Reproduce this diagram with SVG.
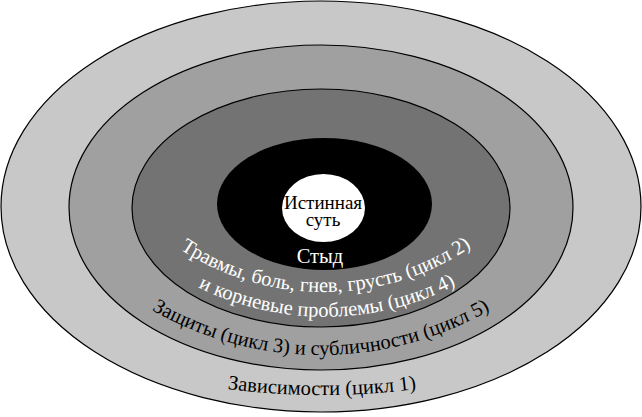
<svg xmlns="http://www.w3.org/2000/svg" xmlns:xlink="http://www.w3.org/1999/xlink" width="642" height="417" viewBox="0 0 642 417">
<style>
.ring{stroke:#000;stroke-width:1.2}
.t{font-family:'Liberation Serif','DejaVu Serif',serif;font-size:20.5px}
.w{fill:#fff}
.k{fill:#000}
</style>
<defs>
<path id="p1" d="M138,215 A263,263 0 0 0 510,215"/>
<path id="p2" d="M121,232 A288,288 0 0 0 529,232"/>
<path id="p3" d="M102.5,275.5 A340,340 0 0 0 539.5,275.5"/>
<path id="p4" d="M126.6,369.3 A755,755 0 0 0 517.4,369.3"/>
</defs>
<rect width="642" height="417" fill="#fff"/>
<g id="addictions">
<ellipse class="ring" cx="321" cy="206.5" rx="320" ry="205.5" fill="#c8c8c8"/>
<text class="t k" font-family="Liberation Serif, DejaVu Serif, serif"><textPath xlink:href="#p4" href="#p4" startOffset="50%" text-anchor="middle">Зависимости (цикл 1)</textPath></text>
</g>
<g id="defenses">
<ellipse class="ring" cx="321" cy="207.5" rx="252" ry="162.5" fill="#a0a0a0"/>
<text class="t k"><textPath xlink:href="#p3" href="#p3" startOffset="50%" text-anchor="middle">Защиты (цикл 3) и субличности (цикл 5)</textPath></text>
</g>
<g id="traumas">
<ellipse class="ring" cx="321" cy="208" rx="189" ry="119" fill="#737373"/>
<text class="t w"><textPath xlink:href="#p1" href="#p1" startOffset="50.5%" text-anchor="middle">Травмы, боль, гнев, грусть (цикл 2)</textPath></text>
<text class="t w"><textPath xlink:href="#p2" href="#p2" startOffset="50.5%" text-anchor="middle">и корневые проблемы (цикл 4)</textPath></text>
</g>
<g id="shame">
<ellipse cx="324.5" cy="204" rx="107.5" ry="66" fill="#000"/>
<text class="t w" x="320" y="263" text-anchor="middle">Стыд</text>
</g>
<g id="true-self">
<ellipse cx="323.5" cy="208" rx="41.5" ry="34" fill="#fff"/>
<text class="t k" text-anchor="middle" style="font-size:19px"><tspan x="323" y="209">Истинная</tspan><tspan x="323" y="226">суть</tspan></text>
</g>
</svg>
